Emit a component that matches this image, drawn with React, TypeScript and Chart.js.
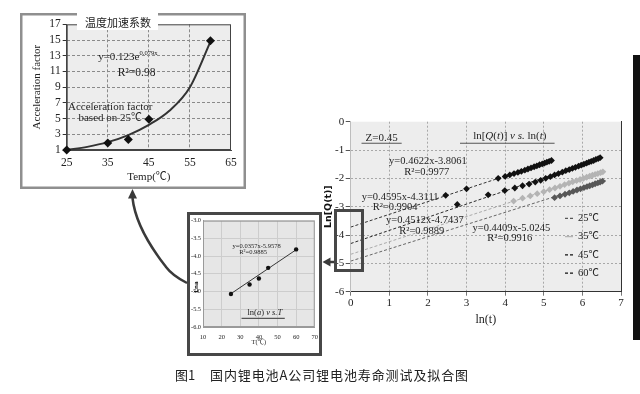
import React, { useEffect, useRef } from 'react';
import { Chart, registerables } from 'chart.js';

Chart.register(...registerables);

const SERIF = '"Liberation Serif", "Noto Sans CJK SC", serif';
const CJK = '"Noto Sans CJK SC", "Noto Sans CJK TC", sans-serif';

// ---------- Panel 1: temperature acceleration factor ----------
const accTitle = '温度加速系数';
const accTemps = [25, 35, 40, 45, 60];
const accFactors = [1.0, 1.9, 2.35, 4.9, 14.9];
const accFitTemps = [25, 30, 35, 40, 45, 50, 55, 60];
const accFitFactors = [1.0, 1.4, 2.0, 2.9, 4.2, 6.0, 9.0, 14.8];
const accXTicks = [25, 35, 45, 55, 65];
const accYTicks = [1, 3, 5, 7, 9, 11, 13, 15, 17];

// ---------- Panel 2: ln(a) vs T ----------
const lnaTemps = [25, 35, 40, 45, 60];
const lnaValues = [-5.07, -4.8, -4.63, -4.33, -3.81];
const lnaFitTemps = [25, 60];
const lnaFitValues = [-5.06, -3.82];
const lnaXTicks = [10, 20, 30, 40, 50, 60, 70];
const lnaYTicks = [-3, -3.5, -4, -4.5, -5, -5.5, -6];

// ---------- Panel 3: ln[Q(t)] vs ln(t) ----------
const seriesLabels = ['25℃', '35℃', '45℃', '60℃'];
const lnT25 = [5.28, 5.42, 5.55, 5.66, 5.76, 5.86, 5.95, 6.04, 6.12, 6.19, 6.26, 6.33, 6.4, 6.46, 6.52];
const lnQ25 = [-2.68, -2.62, -2.56, -2.51, -2.46, -2.41, -2.37, -2.33, -2.29, -2.26, -2.23, -2.19, -2.16, -2.13, -2.1];
const lnT35 = [4.22, 4.45, 4.65, 4.83, 5.0, 5.15, 5.29, 5.42, 5.54, 5.65, 5.75, 5.85, 5.94, 6.03, 6.11, 6.19, 6.26, 6.33, 6.4, 6.47, 6.53];
const lnQ35 = [-2.8, -2.7, -2.62, -2.54, -2.47, -2.4, -2.34, -2.28, -2.22, -2.17, -2.12, -2.08, -2.04, -2.0, -1.96, -1.92, -1.89, -1.86, -1.83, -1.8, -1.77];
const lnT45 = [2.76, 3.56, 3.99, 4.25, 4.45, 4.62, 4.78, 4.92, 5.05, 5.17, 5.28, 5.38, 5.48, 5.57, 5.66, 5.74, 5.82, 5.9, 5.97, 6.04, 6.11, 6.17, 6.23, 6.29, 6.35, 6.41, 6.46];
const lnQ45 = [-2.92, -2.58, -2.43, -2.34, -2.26, -2.2, -2.13, -2.07, -2.0, -1.94, -1.88, -1.83, -1.78, -1.73, -1.69, -1.65, -1.61, -1.57, -1.53, -1.5, -1.46, -1.43, -1.4, -1.37, -1.33, -1.3, -1.27];
const lnT60 = [2.46, 3.0, 3.82, 4.0, 4.12, 4.23, 4.33, 4.42, 4.51, 4.59, 4.67, 4.75, 4.82, 4.89, 4.96, 5.02, 5.08, 5.14, 5.2];
const lnQ60 = [-2.6, -2.37, -2.0, -1.93, -1.88, -1.83, -1.79, -1.75, -1.71, -1.67, -1.63, -1.59, -1.56, -1.52, -1.49, -1.46, -1.43, -1.4, -1.37];
const fitLnT = [[0, 6.6], [0, 6.6], [0, 6.46], [0, 5.2]];
const fitLnQ = [[-4.92, -2.08], [-4.68, -1.75], [-4.3, -1.3], [-3.72, -1.38]];
const lnTTicks = [0, 1, 2, 3, 4, 5, 6, 7];
const lnQTicks = [0, -1, -2, -3, -4, -5, -6];
const markerColors = ['#575757', '#b4b4b4', '#111111', '#111111'];
const fitColors = ['#666666', '#aaaaaa', '#2a2a2a', '#333333'];

const caption = '国内锂电池A公司锂电池寿命测试及拟合图';

// ---------- annotation texts ----------
type Part = { t: string; it?: boolean; sup?: boolean };
type Note = { x: number; y: number; parts: Part[]; size: number; family?: string; bold?: boolean; rotate?: boolean; ul?: number[] };

const accNotes: Note[] = [
  { x: 39.9, y: 12.8, size: 11, parts: [{ t: 'y=0.123e' }, { t: '0.079x', sup: true }] },
  { x: 42.0, y: 10.76, size: 11.5, parts: [{ t: 'R²=0.98' }] },
  { x: 35.6, y: 6.5, size: 11, parts: [{ t: 'Acceleration factor' }] },
  { x: 35.6, y: 5.03, size: 11, parts: [{ t: 'based on 25℃' }] },
];

const lnaNotes: Note[] = [
  { x: 38.8, y: -3.73, size: 6.5, parts: [{ t: 'y=0.0357x-5.9578' }] },
  { x: 36.9, y: -3.9, size: 6.5, parts: [{ t: 'R²=0.9885' }] },
  { x: 43.2, y: -5.61, size: 8.5, parts: [{ t: 'ln(' }, { t: 'a', it: true }, { t: ') ' }, { t: 'v s.T', it: true }], ul: [30.7, 53.9, -5.755] },
  { x: 6.5, y: -4.87, size: 5.5, bold: true, family: '"DejaVu Sans", sans-serif', rotate: true, parts: [{ t: 'Lna' }] },
];

const lnqNotes: Note[] = [
  { x: 0.8, y: -0.59, size: 11, parts: [{ t: 'Z=0.45' }], ul: [0.28, 1.32, -0.76] },
  {
    x: 4.12, y: -0.5, size: 11,
    parts: [{ t: 'ln[' }, { t: 'Q', it: true }, { t: '(' }, { t: 't', it: true }, { t: ')] ' }, { t: 'v s.', it: true }, { t: ' ln(' }, { t: 't', it: true }, { t: ')' }],
    ul: [2.83, 5.28, -0.76],
  },
  { x: 2.0, y: -1.41, size: 10.5, parts: [{ t: 'y=0.4622x-3.8061' }] },
  { x: 1.97, y: -1.8, size: 10.5, parts: [{ t: 'R²=0.9977' }] },
  { x: 1.28, y: -2.67, size: 10.5, parts: [{ t: 'y=0.4595x-4.3111' }] },
  { x: 1.15, y: -3.03, size: 10.5, parts: [{ t: 'R²=0.9904' }] },
  { x: 1.92, y: -3.47, size: 10.5, parts: [{ t: 'y=0.4512x-4.7437' }] },
  { x: 1.84, y: -3.85, size: 10.5, parts: [{ t: 'R²=0.9889' }] },
  { x: 4.16, y: -3.76, size: 10.5, parts: [{ t: 'y=0.4409x-5.0245' }] },
  { x: 4.12, y: -4.12, size: 10.5, parts: [{ t: 'R²=0.9916' }] },
];

// ---------- plugins ----------
function notesPlugin(id: string, notes: Note[]) {
  return {
    id,
    afterDraw(chart: any) {
      const { ctx } = chart;
      const xs = chart.scales.x;
      const ys = chart.scales.y;
      for (const n of notes) {
        const px = xs.getPixelForValue(n.x);
        const py = ys.getPixelForValue(n.y);
        const fam = n.family || SERIF;
        const fontOf = (p: Part) => `${p.it ? 'italic ' : ''}${n.bold ? 'bold ' : ''}${p.sup ? n.size * 0.6 : n.size}px ${fam}`;
        ctx.save();
        ctx.translate(px, py);
        if (n.rotate) ctx.rotate(-Math.PI / 2);
        ctx.textBaseline = 'middle';
        ctx.textAlign = 'left';
        ctx.fillStyle = '#1e1e1e';
        const widths = n.parts.map((p) => {
          ctx.font = fontOf(p);
          return ctx.measureText(p.t).width;
        });
        let cx = -widths.reduce((a, b) => a + b, 0) / 2;
        n.parts.forEach((p, i) => {
          ctx.font = fontOf(p);
          ctx.fillText(p.t, cx, p.sup ? -n.size * 0.38 : 0);
          cx += widths[i];
        });
        ctx.restore();
        if (n.ul) {
          const y = ys.getPixelForValue(n.ul[2]);
          ctx.save();
          ctx.strokeStyle = '#555';
          ctx.lineWidth = 1.2;
          ctx.beginPath();
          ctx.moveTo(xs.getPixelForValue(n.ul[0]), y);
          ctx.lineTo(xs.getPixelForValue(n.ul[1]), y);
          ctx.stroke();
          ctx.restore();
        }
      }
    },
  };
}

function plotBgPlugin(fill: string, outline?: string) {
  return {
    id: 'plotBg',
    beforeDraw(chart: any) {
      const { ctx, chartArea: a } = chart;
      ctx.save();
      ctx.fillStyle = fill;
      ctx.fillRect(a.left, a.top, a.right - a.left, a.bottom - a.top);
      ctx.restore();
    },
    beforeDatasetsDraw(chart: any) {
      if (!outline) return;
      const { ctx, chartArea: a } = chart;
      ctx.save();
      ctx.strokeStyle = outline;
      ctx.lineWidth = 1;
      ctx.strokeRect(a.left + 0.5, a.top + 0.5, a.right - a.left - 1, a.bottom - a.top - 1);
      ctx.restore();
    },
  };
}

const accFramePlugin = {
  id: 'accFrame',
  afterDraw(chart: any) {
    const { ctx } = chart;
    ctx.save();
    ctx.strokeStyle = '#8f8f8f';
    ctx.lineWidth = 2.5;
    ctx.strokeRect(5.25, 6.25, 223.5, 173.5);
    ctx.fillStyle = '#ffffff';
    ctx.fillRect(61, 3, 81, 19);
    ctx.fillStyle = '#222';
    ctx.font = `11px ${CJK}`;
    ctx.textAlign = 'center';
    ctx.textBaseline = 'middle';
    ctx.fillText(accTitle, 102, 14.7);
    ctx.restore();
  },
};

const lnaFramePlugin = {
  id: 'lnaFrame',
  afterDraw(chart: any) {
    const { ctx } = chart;
    ctx.save();
    ctx.strokeStyle = '#474747';
    ctx.lineWidth = 3;
    ctx.strokeRect(2.5, 3.5, 132, 141);
    ctx.restore();
  },
};

const lnqLegendPlugin = {
  id: 'lnqLegend',
  afterDraw(chart: any) {
    const { ctx, chartArea: a } = chart;
    ctx.save();
    ctx.font = `10.5px ${SERIF}`;
    ctx.textBaseline = 'middle';
    ctx.textAlign = 'left';
    seriesLabels.forEach((lab, i) => {
      const y = a.bottom - 73.4 + i * 18.3;
      const x0 = a.right - 56;
      ctx.strokeStyle = markerColors[i];
      ctx.lineWidth = 1.3;
      ctx.setLineDash(i === 1 ? [] : [3, 2]);
      ctx.beginPath();
      ctx.moveTo(x0, y);
      ctx.lineTo(x0 + 8, y);
      ctx.stroke();
      ctx.fillStyle = '#222';
      ctx.fillText(lab, a.right - 43, y);
    });
    ctx.restore();
  },
};

const fixedTicks = (vals: number[]) => (s: any) => {
  s.ticks = vals.map((v) => ({ value: v }));
};
const pts = (xs: number[], ys: number[]) => xs.map((x, i) => ({ x, y: ys[i] }));

function accConfig(): any {
  return {
    type: 'scatter',
    data: {
      datasets: [
        { data: pts(accTemps, accFactors), pointStyle: 'rectRot', pointRadius: 4.5, backgroundColor: '#111', borderColor: '#111', borderWidth: 0, clip: false },
        { data: pts(accFitTemps, accFitFactors), showLine: true, cubicInterpolationMode: 'monotone', borderColor: '#333', borderWidth: 2, pointRadius: 0 },
      ],
    },
    options: {
      animation: false, responsive: false, events: [],
      layout: { padding: { top: 16.3, right: 21, left: 0, bottom: 0 } },
      plugins: { legend: { display: false }, tooltip: { enabled: false } },
      scales: {
        x: {
          type: 'linear', min: 25, max: 65, afterBuildTicks: fixedTicks(accXTicks), afterFit: (s: any) => { s.height = 44; },
          grid: { color: (c: any) => (c.tick && (c.tick.value === 25 || c.tick.value === 65) ? 'rgba(0,0,0,0)' : '#8a8a8a'), drawTicks: false },
          border: { color: '#444', dash: [3, 2] },
          ticks: { font: { family: SERIF, size: 11.5 }, color: '#222', padding: 6.4, maxRotation: 0, autoSkip: false },
          title: { display: true, text: 'Temp(℃)', font: { family: SERIF, size: 11 }, color: '#222', padding: { top: 0, bottom: 10.7 } },
        },
        y: {
          type: 'linear', min: 1, max: 17, afterBuildTicks: fixedTicks(accYTicks), afterFit: (s: any) => { s.width = 50.7; },
          grid: { color: (c: any) => (c.tick && (c.tick.value === 1 || c.tick.value === 17) ? 'rgba(0,0,0,0)' : '#8a8a8a'), tickColor: '#333', tickLength: 4 },
          border: { color: '#444', dash: [3, 2] },
          ticks: { font: { family: SERIF, size: 11.5 }, color: '#222', padding: 2, autoSkip: false },
          title: { display: true, text: 'Acceleration factor', font: { family: SERIF, size: 11 }, color: '#222', padding: { top: 14.4, bottom: 0 } },
        },
      },
    },
    plugins: [plotBgPlugin('#ededed', '#444'), notesPlugin('accNotes', accNotes), accFramePlugin],
  };
}

function lnaConfig(): any {
  return {
    type: 'scatter',
    data: {
      datasets: [
        { data: pts(lnaTemps, lnaValues), pointStyle: 'circle', pointRadius: 2.2, backgroundColor: '#111', borderColor: '#111', borderWidth: 0 },
        { data: pts(lnaFitTemps, lnaFitValues), showLine: true, borderColor: '#222', borderWidth: 0.9, pointRadius: 0 },
      ],
    },
    options: {
      animation: false, responsive: false, events: [],
      layout: { padding: { top: 10.7, right: 9, left: 0, bottom: 0 } },
      plugins: { legend: { display: false }, tooltip: { enabled: false } },
      scales: {
        x: {
          type: 'linear', min: 10, max: 70, afterBuildTicks: fixedTicks(lnaXTicks), afterFit: (s: any) => { s.height = 31; },
          grid: { color: '#cdcdcd', drawTicks: false },
          border: { color: '#999' },
          ticks: { font: { family: SERIF, size: 6.5 }, color: '#222', padding: 6, maxRotation: 0, autoSkip: false },
          title: { display: true, text: 'T(℃)', font: { family: SERIF, size: 6.5 }, color: '#222', padding: { top: 0, bottom: 11.5 } },
        },
        y: {
          type: 'linear', min: -6, max: -3, afterBuildTicks: fixedTicks(lnaYTicks), afterFit: (s: any) => { s.width = 17; },
          grid: { color: '#cdcdcd', drawTicks: false },
          border: { color: '#999' },
          ticks: { font: { family: SERIF, size: 6.3 }, color: '#222', padding: 2, autoSkip: false, callback: (v: any) => Number(v).toFixed(1) },
        },
      },
    },
    plugins: [plotBgPlugin('#e6e6e6', '#9a9a9a'), notesPlugin('lnaNotes', lnaNotes), lnaFramePlugin],
  };
}

function lnqConfig(): any {
  const xsArr = [lnT25, lnT35, lnT45, lnT60];
  const ysArr = [lnQ25, lnQ35, lnQ45, lnQ60];
  const scatterSets = seriesLabels.map((lab, i) => ({
    label: lab, data: pts(xsArr[i], ysArr[i]), pointStyle: 'rectRot', pointRadius: 3.4,
    backgroundColor: markerColors[i], borderColor: markerColors[i], borderWidth: 0,
  }));
  const fitSets = seriesLabels.map((lab, i) => ({
    label: lab + ' fit', data: pts(fitLnT[i], fitLnQ[i]), showLine: true, pointRadius: 0,
    borderColor: fitColors[i], borderWidth: 1, borderDash: [3, 2],
  }));
  const edge = (vals: number[], col: string) => (c: any) => (c.tick && vals.includes(c.tick.value) ? 'rgba(0,0,0,0)' : col);
  return {
    type: 'scatter',
    data: { datasets: [...scatterSets, ...fitSets] },
    options: {
      animation: false, responsive: false, events: [],
      layout: { padding: { top: 21.7, right: 19, left: 0, bottom: 0 } },
      plugins: { legend: { display: false }, tooltip: { enabled: false } },
      scales: {
        x: {
          type: 'linear', min: 0, max: 7, afterBuildTicks: fixedTicks(lnTTicks), afterFit: (s: any) => { s.height = 48.3; },
          grid: { color: edge([0, 7], '#a8a8a8'), tickColor: '#777', tickLength: 4 },
          border: { color: '#333', dash: [2, 2] },
          ticks: { font: { family: SERIF, size: 11 }, color: '#222', padding: 1, maxRotation: 0, autoSkip: false },
          title: { display: true, text: 'ln(t)', font: { family: SERIF, size: 12 }, color: '#222', padding: { top: 0, bottom: 12.8 } },
        },
        y: {
          type: 'linear', min: -6, max: 0, afterBuildTicks: fixedTicks(lnQTicks), afterFit: (s: any) => { s.width = 50.7; },
          grid: { color: edge([0, -6], '#a8a8a8'), tickColor: '#555', tickLength: 5 },
          border: { color: '#bdbdbd', dash: [2, 2] },
          ticks: { font: { family: SERIF, size: 11 }, color: '#222', padding: 1.5, autoSkip: false },
          title: { display: true, text: 'Ln[Q(t)]', font: { family: '"DejaVu Sans", sans-serif', size: 9.5, weight: 'bold' }, color: '#111', padding: { top: 23.3, bottom: 0 } },
        },
        y2: {
          type: 'linear', position: 'right', min: -6, max: 0, afterFit: (s: any) => { s.width = 0; },
          ticks: { display: false }, grid: { display: false }, border: { color: '#333' },
        },
      },
    },
    plugins: [plotBgPlugin('#ededed'), notesPlugin('lnqNotes', lnqNotes), lnqLegendPlugin],
  };
}

function ChartCanvas({ make, left, top, width, height }: any) {
  const ref = useRef<HTMLCanvasElement | null>(null);
  useEffect(() => {
    if (!ref.current) return;
    const chart = new Chart(ref.current, make());
    return () => chart.destroy();
  }, []);
  return <canvas ref={ref} width={width} height={height} style={{ position: 'absolute', left, top, width, height }} />;
}

export default function App() {
  return (
    <div style={{ position: 'absolute', left: 0, top: 0, width: 640, height: 394, background: '#fff', overflow: 'hidden' }}>
      <ChartCanvas make={accConfig} left={16} top={8} width={236} height={186} />
      <ChartCanvas make={lnaConfig} left={186} top={210} width={138} height={148} />
      <ChartCanvas make={lnqConfig} left={300} top={100} width={340} height={240} />
      <svg width={640} height={394} style={{ position: 'absolute', left: 0, top: 0, pointerEvents: 'none' }}>
        <rect x={335.5} y={210.5} width={27} height={60} fill="none" stroke="#474747" strokeWidth={3} />
        <line x1={334} y1={262} x2={329} y2={262} stroke="#3a3a3a" strokeWidth={2.5} />
        <polygon points="322.5,262 330.5,257.5 330.5,266.5" fill="#3a3a3a" />
        <path d="M187,283 C179,279 172,275 166,267 C160,259 136,230 132.5,198" fill="none" stroke="#3a3a3a" strokeWidth={2.5} />
        <polygon points="132.5,189 128,198.5 137,198.5" fill="#3a3a3a" />
      </svg>
      <div style={{ position: 'absolute', left: 633, top: 55, width: 7, height: 285, background: '#111' }} />
      <div style={{ position: 'absolute', left: 175, top: 367, font: `13px ${CJK}`, lineHeight: '16px', color: '#222', whiteSpace: 'nowrap' }}>图1</div>
      <div style={{ position: 'absolute', left: 210, top: 367, font: `13px ${CJK}`, lineHeight: '16px', color: '#222', whiteSpace: 'nowrap', letterSpacing: '0.9px' }}>{caption}</div>
    </div>
  );
}
